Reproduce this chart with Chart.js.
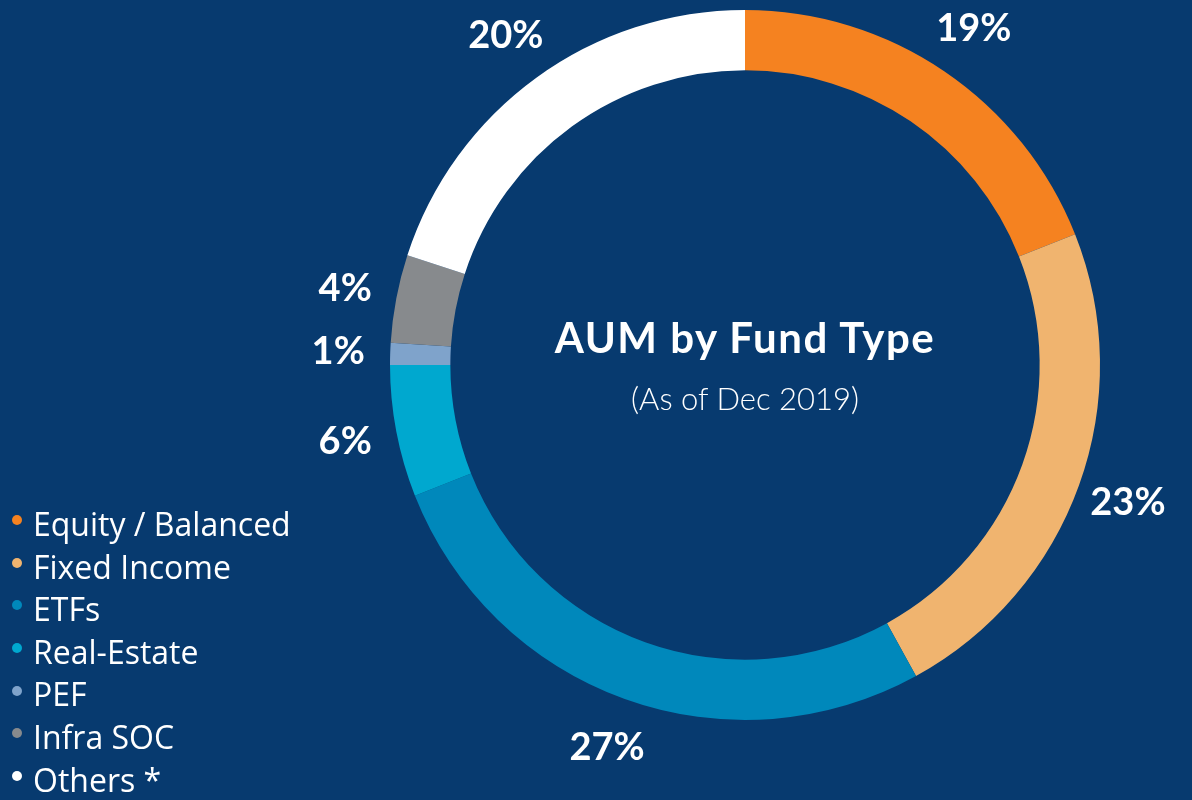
<!DOCTYPE html>
<html>
<head>
<meta charset="utf-8">
<script src="https://cdn.jsdelivr.net/npm/chart.js@4.4.1/dist/chart.umd.min.js"></script>
<style>
    html, body {
        margin: 0;
        padding: 0;
        background: #073A6F;
        overflow: hidden;
    }
    #wrap {
        position: relative;
        width: 1192px;
        height: 800px;
    }
    #center-title {
        position: absolute;
        left: 445px;
        width: 600px;
        top: 312px;
        text-align: center;
        color: #fff;
        font-family: Lato, sans-serif;
        font-weight: 700;
        font-size: 42px;
        letter-spacing: 1.5px;
        line-height: 50px;
    }
    #center-sub {
        position: absolute;
        left: 445px;
        width: 600px;
        top: 380px;
        text-align: center;
        color: #fff;
        font-family: Lato, sans-serif;
        font-weight: 300;
        font-size: 31px;
        line-height: 36px;
    }
    #legend {
        position: absolute;
        left: 12px;
        top: 503px;
        margin: 0;
        padding: 0;
        list-style: none;
        color: #fff;
        font-family: "Open Sans", sans-serif;
        font-size: 32px;
    }
    #legend li {
        height: 42.6px;
        line-height: 42.6px;
        display: flex;
        align-items: center;
    }
    #legend .dot {
        width: 10px;
        height: 10px;
        border-radius: 50%;
        margin-right: 11px;
        margin-top: -8px;
    }
</style>
</head>
<body>
<div id="wrap">
    <canvas id="chart" width="1192" height="800"></canvas>
    <div id="center-title">AUM by Fund Type</div>
    <div id="center-sub">(As of Dec 2019)</div>
    <ul id="legend"></ul>
</div>
<script>
const fundTypes = ['Equity / Balanced', 'Fixed Income', 'ETFs', 'Real-Estate', 'PEF', 'Infra SOC', 'Others *'];
const sharePercent = [19, 23, 27, 6, 1, 4, 20];
const sliceColors = ['#F58220', '#F0B46F', '#0088BB', '#00A8CF', '#7FA3CB', '#878A8D', '#FFFFFF'];

const legend = document.getElementById('legend');
fundTypes.forEach((name, i) => {
    const item = document.createElement('li');
    const dot = document.createElement('span');
    dot.className = 'dot';
    dot.style.background = sliceColors[i];
    item.appendChild(dot);
    item.appendChild(document.createTextNode(name));
    legend.appendChild(item);
});

// percent labels just outside the ring, on each slice's mid angle
const outsideLabels = {
    id: 'outsideLabels',
    afterDatasetsDraw(chart) {
        const ctx = chart.ctx;
        const values = chart.data.datasets[0].data;

        ctx.save();
        ctx.fillStyle = '#fff';
        ctx.font = 'bold 38px Lato, sans-serif';
        ctx.textAlign = 'center';
        ctx.textBaseline = 'middle';

        chart.getDatasetMeta(0).data.forEach((arc, i) => {
            const { x, y, startAngle, endAngle, outerRadius } = arc.getProps(['x', 'y', 'startAngle', 'endAngle', 'outerRadius'], true);
            const mid = (startAngle + endAngle) / 2;
            const r = outerRadius + 52;

            ctx.fillText(`${values[i]}%`, x + Math.cos(mid) * r, y + Math.sin(mid) * r);
        });

        ctx.restore();
    },
};

new Chart(document.getElementById('chart'), {
    type: 'doughnut',
    data: {
        labels: fundTypes,
        datasets: [{
            data: sharePercent,
            backgroundColor: sliceColors,
            borderWidth: 0,
        }],
    },
    options: {
        responsive: false,
        animation: false,
        cutout: '83%',
        layout: {
            padding: { left: 300, right: 2, top: 10, bottom: 80 },
        },
        plugins: {
            legend: { display: false },
            tooltip: { enabled: false },
        },
    },
    plugins: [outsideLabels],
});
</script>
</body>
</html>
